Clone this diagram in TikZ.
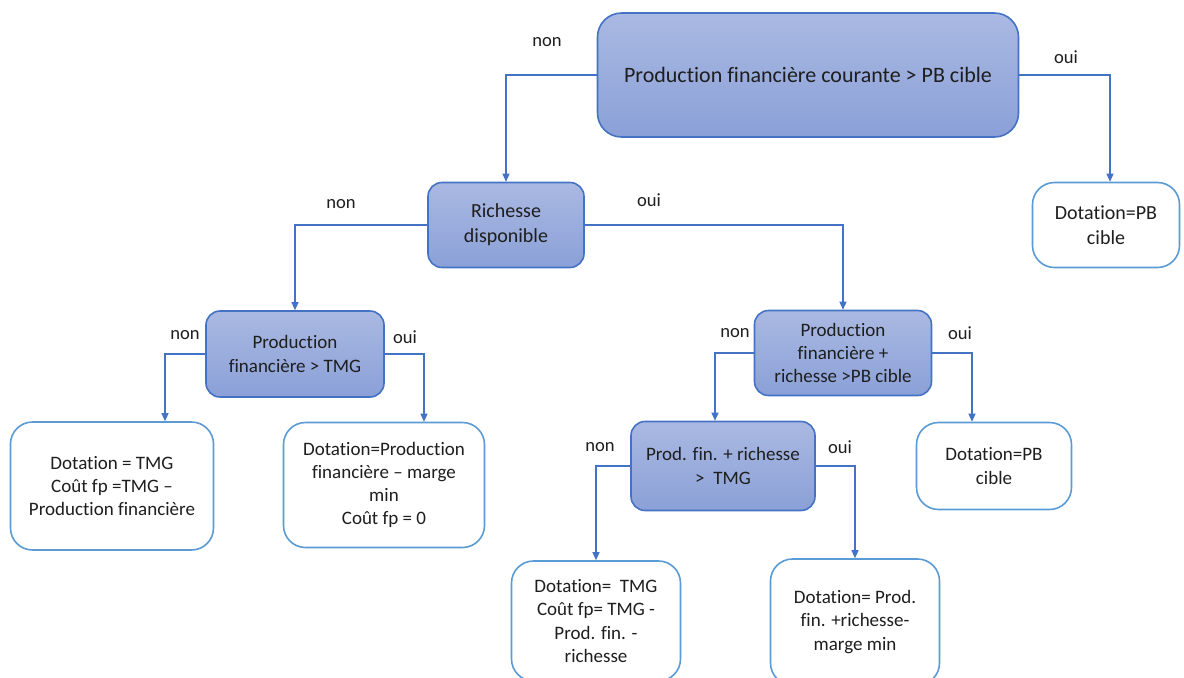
\documentclass[tikz,border=0pt]{standalone}
\usepackage{fontspec}
\setmainfont[Ligatures=NoCommon]{Carlito}
\usetikzlibrary{arrows.meta}
\definecolor{boxtop}{RGB}{170,185,226}
\definecolor{boxbot}{RGB}{138,160,215}
\definecolor{edgeblue}{RGB}{68,114,196}
\definecolor{leafblue}{RGB}{91,155,213}
\definecolor{txtgray}{RGB}{30,30,30}
\begin{document}
\begin{tikzpicture}[x=0.5pt,y=-0.5pt,
		test/.style={draw=edgeblue,line width=0.8pt,rounded corners=7pt,top color=boxtop,bottom color=boxbot,align=center,inner sep=1pt,text=txtgray,font=\fontsize{9.5}{11.6}\selectfont},
		leaf/.style={draw=leafblue,line width=0.8pt,rounded corners=11pt,fill=white,align=center,inner sep=1pt,text=txtgray,font=\fontsize{9.5}{11.6}\selectfont},
		yesno/.style={text=txtgray,font=\fontsize{9.3}{11}\selectfont},
		arr/.style={draw=edgeblue,line width=0.6pt,-{Triangle[length=4pt,width=3.5pt]}}]
		\useasboundingbox (0,0) rectangle (1184,677);
		% decisions
		\node[test,rounded corners=12pt,minimum width=210.5pt,minimum height=62pt,font=\fontsize{11}{13.4}\selectfont] (pbcible) at (808,75) {Production financière courante > PB cible};
		\node[test,minimum width=78pt,minimum height=42.5pt,font=\fontsize{10}{12.4}\selectfont] (richesse) at (506,225) {Richesse\\disponible};
		\node[test,minimum width=89pt,minimum height=43pt] (pftmg) at (295,354) {Production\\financière > TMG};
		\node[test,minimum width=88.5pt,minimum height=42.5pt] (pfrich) at (843,353) {Production\\financière +\\richesse >PB cible};
		\node[test,minimum width=92pt,minimum height=44.5pt] (prodfin) at (723,466) {Prod. fin. + richesse\\>\ \ TMG};
		% results
		\node[leaf,minimum width=73.5pt,minimum height=42.5pt,font=\fontsize{10}{12.4}\selectfont] (dotpb) at (1106,225) {Dotation=PB\\cible};
		\node[leaf,minimum width=101.5pt,minimum height=64pt] (dottmg) at (112,486) {Dotation = TMG\\Coût fp =TMG --\\Production financière};
		\node[leaf,minimum width=100.5pt,minimum height=62.5pt] (dotpf) at (384,485) {Dotation=Production\\financière -- marge\\min\\Coût fp = 0};
		\node[leaf,minimum width=77.5pt,minimum height=43.5pt] (dotpbb) at (994,466) {Dotation=PB\\cible};
		\node[leaf,minimum width=84.5pt,minimum height=60pt] (dotrich) at (596,621) {Dotation=\ \ TMG\\Coût fp= TMG -\\Prod. fin. -\\richesse};
		\node[leaf,minimum width=84.5pt,minimum height=63pt] (dotmarge) at (855,622) {Dotation= Prod.\\fin. +richesse-\\marge min};
		% branches
		\draw[arr] (pbcible.west) -| (richesse.north);
		\draw[arr] (pbcible.east) -| ([xshift=2pt]dotpb.north);
		\draw[arr] (richesse.west) -| (pftmg.north);
		\draw[arr] (richesse.east) -| (pfrich.north);
		\draw[arr] (pftmg.west) -| ([xshift=26.5pt]dottmg.north);
		\draw[arr] (pftmg.east) -| ([xshift=20pt]dotpf.north);
		\draw[arr] (pfrich.west) -| ([xshift=-4pt]prodfin.north);
		\draw[arr] (pfrich.east) -| ([xshift=-11pt]dotpbb.north);
		\draw[arr] (prodfin.west) -| (dotrich.north);
		\draw[arr] (prodfin.east) -| (dotmarge.north);
		% labels
		\node[yesno] (n1) at (547,42) {non};
		\node[yesno] (o1) at (1066,57) {oui};
		\node[yesno] (n2) at (341,204) {non};
		\node[yesno] (o2) at (649,200) {oui};
		\node[yesno] (n3) at (185,335) {non};
		\node[yesno] (o3) at (405,337) {oui};
		\node[yesno] (n4) at (735,333) {non};
		\node[yesno] (o4) at (960,333) {oui};
		\node[yesno] (n5) at (600,447) {non};
		\node[yesno] (o5) at (840,447) {oui};
\end{tikzpicture}
\end{document}
